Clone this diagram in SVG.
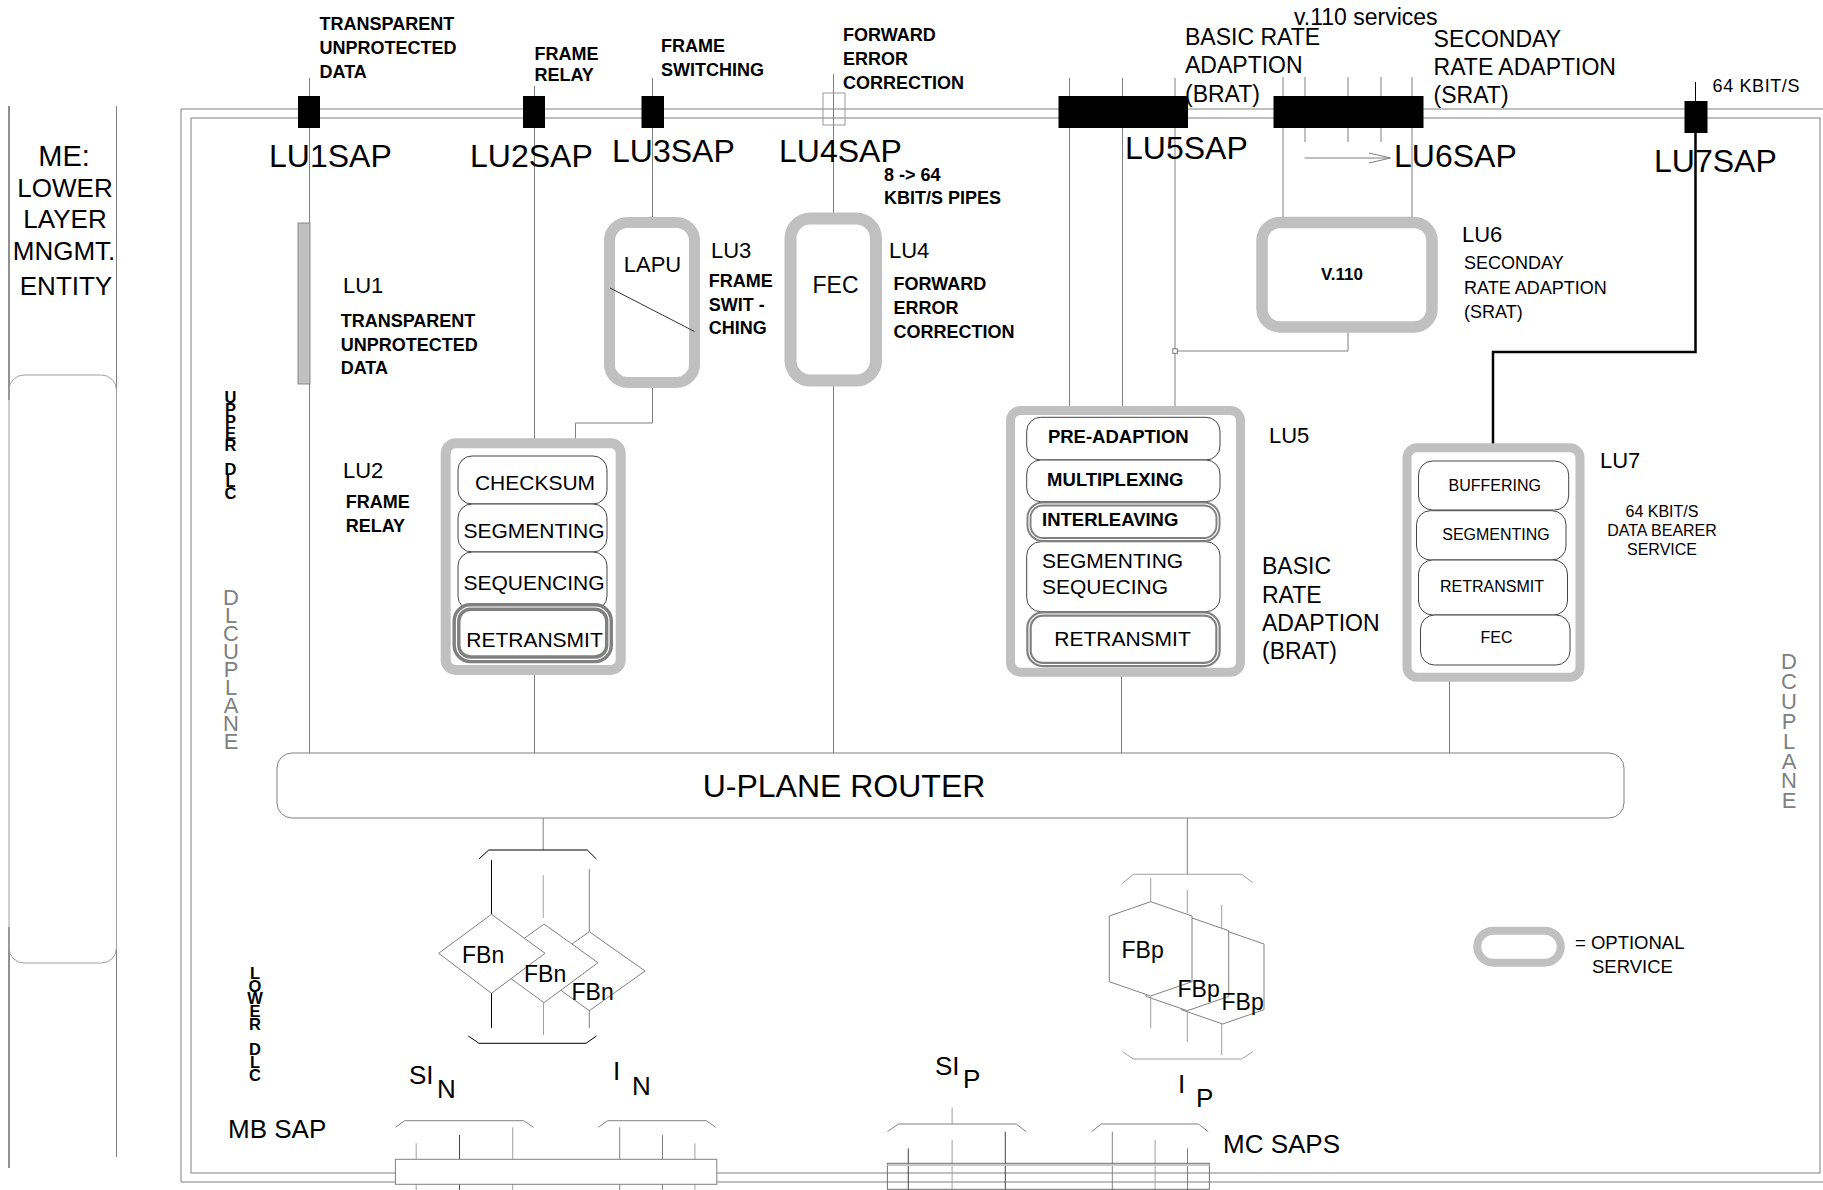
<svg xmlns="http://www.w3.org/2000/svg" width="1823" height="1190" viewBox="0 0 1823 1190">
<defs>
<style>
text{font-family:"Liberation Sans",Arial,Helvetica,sans-serif;fill:#000}
.b{font-weight:bold;font-size:18px}
.r{font-size:22px}
.sap{font-size:32px}
.mid{text-anchor:middle}
.ln{stroke:#808080;stroke-width:1;fill:none}
.lg{stroke:#a0a0a0;stroke-width:1;fill:none}
.lk{stroke:#000;stroke-width:1;fill:none}
.opt{fill:#fff;stroke:#c0c0c0}
.sub{fill:#fff;stroke:#444;stroke-width:1}
.dk{fill:#fff;stroke:#808080}
.wl{fill:none;stroke:#fff;stroke-width:1.2}
.shape{fill:#fff;stroke:#808080;stroke-width:1}
.vt{writing-mode:vertical-rl;text-orientation:upright}
.vg{font-size:22px;fill:#808080}
.vb{font-size:16.5px;font-weight:bold}
</style>
</defs>
<rect width="1823" height="1190" fill="#fff"/>

<!-- ME panel -->
<g id="me-panel">
<line x1="9" y1="106" x2="9" y2="400" stroke="#222" stroke-width="1"/>
<line x1="9" y1="927" x2="9" y2="1168" stroke="#222" stroke-width="1"/>
<line x1="116.5" y1="106" x2="116.5" y2="1157" class="ln"/>
<rect x="9" y="375" width="107.5" height="588" rx="15" class="lg"/>
<text x="64" y="166" class="mid" font-size="29px">ME:</text>
<text x="65" y="197" class="mid" font-size="26px">LOWER</text>
<text x="65" y="228" class="mid" font-size="26px">LAYER</text>
<text x="64" y="260" class="mid" font-size="26px">MNGMT.</text>
<text x="66" y="295" class="mid" font-size="26px">ENTITY</text>
</g>

<!-- frame -->
<g id="frame">
<path d="M1823,109 H181 V1182 H1823" class="ln"/>
<rect x="191" y="118" width="1629" height="1055" class="ln"/>
</g>

<!-- connectors -->
<g id="connectors">
<line x1="309.5" y1="78" x2="309.5" y2="753" class="ln"/>
<line x1="534.5" y1="86" x2="534.5" y2="440" class="ln"/>
<line x1="534.5" y1="675" x2="534.5" y2="753" class="ln"/>
<line x1="652.5" y1="78" x2="652.5" y2="218" class="ln"/>
<polyline points="652.5,386 652.5,423 575.5,423 575.5,440" class="ln"/>
<line x1="833.5" y1="74" x2="833.5" y2="214" class="ln"/>
<line x1="833.5" y1="384" x2="833.5" y2="753" class="ln"/>
<line x1="1069.5" y1="78" x2="1069.5" y2="407" class="ln"/>
<line x1="1122.5" y1="78" x2="1122.5" y2="407" class="ln"/>
<line x1="1175" y1="78" x2="1175" y2="407" class="ln"/>
<line x1="1121.5" y1="676" x2="1121.5" y2="753" class="ln"/>
<line x1="1283" y1="77" x2="1283" y2="218" class="ln"/>
<line x1="1412" y1="77" x2="1412" y2="218" class="ln"/>
<line x1="1305" y1="77" x2="1305" y2="142" class="ln"/>
<line x1="1348" y1="77" x2="1348" y2="142" class="ln"/>
<line x1="1381" y1="77" x2="1381" y2="142" class="ln"/>
<polyline points="1348,331 1348,351 1177,351" class="ln"/>
<rect x="1172.8" y="348.8" width="4.5" height="4.5" fill="#fff" stroke="#555" stroke-width="0.8"/>
<line x1="1304.5" y1="158" x2="1390" y2="158" class="ln"/>
<polyline points="1369,153 1390.5,158 1369,163" class="ln"/>
<line x1="1695.5" y1="82" x2="1695.5" y2="102" class="lk"/>
<polyline points="1695.5,133 1695.5,352 1493,352 1493,444" fill="none" stroke="#000" stroke-width="2.5"/>
<line x1="1449.5" y1="681" x2="1449.5" y2="753" class="ln"/>
<line x1="543.2" y1="818" x2="543.2" y2="850" class="ln"/>
<line x1="1187.3" y1="818" x2="1187.3" y2="874.3" class="ln"/>
</g>

<!-- SAPs -->
<g id="saps">
<rect x="298" y="96" width="22" height="32" fill="#000"/>
<rect x="523" y="96" width="22" height="32" fill="#000"/>
<rect x="641.5" y="96" width="22.5" height="32" fill="#000"/>
<rect x="823" y="93" width="22" height="32" fill="none" stroke="#999" stroke-width="1"/>
<rect x="1058.5" y="96" width="129.5" height="32" fill="#000"/>
<rect x="1273.5" y="96" width="150" height="32" fill="#000"/>
<rect x="1684.5" y="101" width="23" height="32" fill="#000"/>
<text x="269" y="167" class="sap">LU1SAP</text>
<text x="470" y="167" class="sap">LU2SAP</text>
<text x="612" y="162" class="sap">LU3SAP</text>
<text x="779" y="162" class="sap">LU4SAP</text>
<text x="1125" y="158.5" class="sap">LU5SAP</text>
<text x="1394" y="166.7" class="sap">LU6SAP</text>
<text x="1654" y="171.7" class="sap">LU7SAP</text>
</g>

<!-- top labels -->
<g id="top-labels">
<text x="319.5" y="30" class="b">TRANSPARENT</text>
<text x="319.5" y="54" class="b">UNPROTECTED</text>
<text x="319.5" y="77.7" class="b">DATA</text>
<text x="534.5" y="60" class="b">FRAME</text>
<text x="534.5" y="81" class="b">RELAY</text>
<text x="661" y="51.7" class="b">FRAME</text>
<text x="661" y="76" class="b">SWITCHING</text>
<text x="843" y="40.7" class="b">FORWARD</text>
<text x="843" y="65" class="b">ERROR</text>
<text x="843" y="89" class="b">CORRECTION</text>
<text x="884" y="181" class="b" font-size="17px">8 -&gt; 64</text>
<text x="884" y="204" class="b" font-size="17px">KBIT/S PIPES</text>
<text x="1294" y="25" font-size="23px">v.110 services</text>
<text x="1185" y="45" font-size="23px">BASIC RATE</text>
<text x="1185" y="73" font-size="23px">ADAPTION</text>
<text x="1185" y="101.7" font-size="23px">(BRAT)</text>
<text x="1433.6" y="46.7" font-size="23px">SECONDAY</text>
<text x="1433.6" y="75" font-size="23px">RATE ADAPTION</text>
<text x="1433.6" y="103" font-size="23px">(SRAT)</text>
<text x="1712.6" y="91.7" font-size="18px" letter-spacing="0.6">64 KBIT/S</text>
</g>

<!-- vertical side labels -->
<g id="upper-dlc">
<text x="230.5" y="388" class="vt vb" letter-spacing="-6">UPPER DLC</text>
</g>
<g id="lower-dlc">
<text x="255" y="964" class="vt vb" letter-spacing="-5.3">LOWER DLC</text>
</g>
<g id="dlc-uplane-left">
<text x="231" y="585" class="vt vg" letter-spacing="-7">DLCUPLANE</text>
</g>
<g id="dlc-uplane-right">
<text x="1789" y="649" class="vt vg" letter-spacing="-5.1">DCUPLANE</text>
</g>

<!-- LU1 -->
<g id="lu1">
<rect x="298" y="223" width="12" height="161" fill="#c0c0c0" stroke="#888" stroke-width="1"/>
<text x="343" y="293" class="r">LU1</text>
<text x="340.7" y="326.7" class="b">TRANSPARENT</text>
<text x="340.7" y="350.7" class="b">UNPROTECTED</text>
<text x="340.7" y="374" class="b">DATA</text>
</g>

<!-- LU3 -->
<g id="lu3">
<rect x="609.5" y="222.5" width="85" height="160" rx="18" class="opt" stroke-width="11"/>
<line x1="610" y1="288" x2="694.5" y2="331.5" stroke="#333" stroke-width="1"/>
<text x="652.5" y="271.7" class="mid" font-size="22px">LAPU</text>
<text x="711" y="258" class="r">LU3</text>
<text x="708.7" y="286.7" class="b">FRAME</text>
<text x="708.7" y="310.7" class="b">SWIT -</text>
<text x="708.7" y="334.3" class="b">CHING</text>
</g>

<!-- LU4 -->
<g id="lu4">
<rect x="790.5" y="218.5" width="85.5" height="162" rx="20" class="opt" stroke-width="12"/>
<text x="835.5" y="293" class="mid" font-size="23px">FEC</text>
<text x="889" y="258" class="r">LU4</text>
<text x="893.6" y="290" class="b">FORWARD</text>
<text x="893.6" y="314.3" class="b">ERROR</text>
<text x="893.6" y="337.7" class="b">CORRECTION</text>
</g>

<!-- LU6 -->
<g id="lu6">
<rect x="1262" y="222.5" width="170" height="104.5" rx="18" class="opt" stroke-width="11.5"/>
<text x="1342" y="280" class="mid" font-weight="bold" font-size="17px">V.110</text>
<text x="1462" y="241.7" class="r">LU6</text>
<text x="1464" y="269.3" font-size="18px">SECONDAY</text>
<text x="1464" y="294" font-size="18px">RATE ADAPTION</text>
<text x="1464" y="318.3" font-size="18px">(SRAT)</text>
</g>

<!-- LU2 -->
<g id="lu2">
<rect x="445.7" y="443.3" width="175" height="226.7" rx="10" class="opt" stroke-width="10"/>
<rect x="458" y="456" width="149" height="48" rx="14" class="sub"/>
<rect x="458" y="504" width="149" height="48" rx="14" class="sub"/>
<rect x="458" y="552" width="149" height="58" rx="14" class="sub"/>
<rect x="456.5" y="607" width="152.5" height="52.3" rx="14" class="dk" stroke-width="8"/>
<rect x="456.5" y="607" width="152.5" height="52.3" rx="14" class="wl"/>
<text x="535" y="490" class="mid" font-size="21px">CHECKSUM</text>
<text x="534" y="537.7" class="mid" font-size="21px">SEGMENTING</text>
<text x="534" y="590" class="mid" font-size="21px">SEQUENCING</text>
<text x="534.5" y="646.7" class="mid" font-size="21px">RETRANSMIT</text>
<text x="343" y="477.7" class="r">LU2</text>
<text x="345.7" y="507.7" class="b">FRAME</text>
<text x="345.7" y="531.7" class="b">RELAY</text>
</g>

<!-- LU5 -->
<g id="lu5">
<rect x="1010.5" y="410.5" width="230" height="261.7" rx="10" class="opt" stroke-width="9"/>
<rect x="1026.7" y="417.3" width="193.3" height="42.7" rx="14" class="sub"/>
<rect x="1026.7" y="460" width="193.3" height="41.7" rx="14" class="sub"/>
<rect x="1026.7" y="541.7" width="193.3" height="70" rx="14" class="sub"/>
<rect x="1029" y="504" width="189" height="35.5" rx="14" class="dk" stroke-width="5"/>
<rect x="1029" y="504" width="189" height="35.5" rx="14" class="wl"/>
<rect x="1029" y="614" width="189" height="50.5" rx="14" class="dk" stroke-width="5.5"/>
<rect x="1029" y="614" width="189" height="50.5" rx="14" class="wl"/>
<text x="1118.3" y="442.7" class="mid" font-weight="bold" font-size="18.5px">PRE-ADAPTION</text>
<text x="1115.3" y="486" class="mid" font-weight="bold" font-size="18.5px">MULTIPLEXING</text>
<text x="1042" y="526" font-weight="bold" font-size="18.5px">INTERLEAVING</text>
<text x="1042" y="568.3" font-size="21px">SEGMENTING</text>
<text x="1042" y="594.3" font-size="21px">SEQUECING</text>
<text x="1122.5" y="646" class="mid" font-size="21px">RETRANSMIT</text>
<text x="1269" y="443.3" class="r">LU5</text>
<text x="1262" y="574.3" font-size="23px">BASIC</text>
<text x="1262" y="602.7" font-size="23px">RATE</text>
<text x="1262" y="630.7" font-size="23px">ADAPTION</text>
<text x="1262" y="659.3" font-size="23px">(BRAT)</text>
</g>

<!-- LU7 -->
<g id="lu7">
<rect x="1407" y="447.8" width="173" height="229.4" rx="10" class="opt" stroke-width="9"/>
<rect x="1418.5" y="461" width="150.2" height="49" rx="14" class="sub"/>
<rect x="1416.5" y="510.7" width="149.5" height="49.3" rx="14" class="sub"/>
<rect x="1418.5" y="560" width="149" height="55" rx="14" class="sub"/>
<rect x="1420.5" y="615" width="149.5" height="50" rx="14" class="sub"/>
<text x="1494.8" y="491" class="mid" font-size="16px">BUFFERING</text>
<text x="1496" y="540" class="mid" font-size="16px">SEGMENTING</text>
<text x="1492" y="592" class="mid" font-size="16px">RETRANSMIT</text>
<text x="1496.6" y="643.3" class="mid" font-size="16px">FEC</text>
<text x="1600" y="468.3" class="r">LU7</text>
<text x="1662" y="516.7" class="mid" font-size="16px">64 KBIT/S</text>
<text x="1662" y="536" class="mid" font-size="16px">DATA BEARER</text>
<text x="1662" y="555" class="mid" font-size="16px">SERVICE</text>
</g>

<!-- router -->
<g id="router">
<rect x="277" y="753" width="1347" height="65" rx="15" fill="#fff" stroke="#808080" stroke-width="1"/>
<text x="844" y="796.7" class="mid" font-size="32px">U-PLANE ROUTER</text>
</g>

<!-- FBn -->
<g id="fbn">
<polyline points="479,859 488.8,850 587.3,850 596.4,859" class="lk"/>
<line x1="491.5" y1="860" x2="491.5" y2="914.3" class="lk"/>
<line x1="543.2" y1="875" x2="543.2" y2="918" class="lg"/>
<line x1="589.3" y1="869" x2="589.3" y2="931.7" class="ln"/>
<polygon points="589.3,931.7 645,971 589.3,1010.7 534,971" class="shape"/>
<polygon points="544,924 598,962.7 544,1002.7 490,963.3" class="shape"/>
<polygon points="491.5,914.3 545,953.3 491.5,993.3 438.7,953.3" class="shape"/>
<line x1="491.5" y1="993.3" x2="491.5" y2="1028" class="lk"/>
<line x1="543.5" y1="1002.7" x2="543.5" y2="1035" class="lg"/>
<line x1="589.3" y1="1010.7" x2="589.3" y2="1028" class="ln"/>
<polyline points="468.3,1036 479,1043.3 586,1043.3 596.4,1036" class="lk"/>
<text x="462" y="963.3" font-size="23px">FBn</text>
<text x="524" y="981.7" font-size="23px">FBn</text>
<text x="571.5" y="1000" font-size="23px">FBn</text>
</g>

<!-- FBp -->
<g id="fbp">
<polyline points="1121.7,884 1133.3,874.3 1241.7,874.3 1252.7,882.7" class="lg"/>
<line x1="1150.7" y1="878" x2="1150.7" y2="901.7" class="lg"/>
<line x1="1187.3" y1="890" x2="1187.3" y2="913.3" class="lg"/>
<line x1="1221.7" y1="905" x2="1221.7" y2="928.3" class="lg"/>
<polygon points="1222.7,929.7 1264,944 1264,1009.7 1222.7,1024 1181.3,1009.7 1181.3,944" class="shape"/>
<polygon points="1187.4,916.4 1228.7,930.7 1228.7,996.4 1187.4,1010.7 1146,996.4 1146,930.7" class="shape"/>
<polygon points="1150.7,901.7 1192,916 1192,981.7 1150.7,996 1109.3,981.7 1109.3,916" class="shape"/>
<line x1="1150.7" y1="996" x2="1150.7" y2="1028.3" class="lg"/>
<line x1="1187.3" y1="1010.7" x2="1187.3" y2="1041.7" class="lg"/>
<line x1="1221.7" y1="1024" x2="1221.7" y2="1055" class="lg"/>
<polyline points="1122.7,1051.7 1133.3,1059 1241.7,1059 1252.7,1051.7" class="lg"/>
<text x="1121.5" y="958.3" font-size="23px">FBp</text>
<text x="1177.5" y="997.3" font-size="23px">FBp</text>
<text x="1221.5" y="1010" font-size="23px">FBp</text>
</g>

<!-- bottom SAPs -->
<g id="mb-sap">
<polyline points="395.4,1127.3 404.7,1120.7 523.7,1120.7 533.6,1127.3" class="ln"/>
<polyline points="598.3,1127.3 607.6,1120.7 706.4,1120.7 715.7,1127.3" class="ln"/>
<line x1="416.2" y1="1143.3" x2="416.2" y2="1190" class="lg"/>
<line x1="459.5" y1="1135" x2="459.5" y2="1190" stroke="#444" stroke-width="1"/>
<line x1="512.7" y1="1127.3" x2="512.7" y2="1190" class="lg"/>
<line x1="619.7" y1="1127.3" x2="619.7" y2="1190" class="ln"/>
<line x1="662.5" y1="1135" x2="662.5" y2="1190" class="ln"/>
<line x1="694.9" y1="1143.3" x2="694.9" y2="1190" class="lg"/>
<rect x="395.4" y="1159.3" width="321.4" height="25" fill="#fff" stroke="#808080" stroke-width="1"/>
<text x="228" y="1138.3" font-size="26px">MB SAP</text>
<text x="409" y="1084" font-size="26px">SI</text>
<text x="437" y="1098" font-size="26px">N</text>
<text x="613" y="1080" font-size="26px">I</text>
<text x="632" y="1095" font-size="26px">N</text>
</g>
<g id="mc-saps">
<polyline points="887.4,1131.7 898.4,1124 1016.3,1124 1026.2,1131.7" class="ln"/>
<polyline points="1091.5,1131.7 1101.3,1124 1198.4,1124 1208.3,1131.7" class="ln"/>
<line x1="952.1" y1="1107.3" x2="952.1" y2="1124" class="lg"/>
<line x1="908.3" y1="1148.3" x2="908.3" y2="1190" stroke="#444" stroke-width="1"/>
<line x1="952.1" y1="1140" x2="952.1" y2="1190" class="lg"/>
<line x1="1005.3" y1="1131.7" x2="1005.3" y2="1190" stroke="#444" stroke-width="1"/>
<line x1="1112.3" y1="1131.7" x2="1112.3" y2="1190" class="ln"/>
<line x1="1155.1" y1="1140" x2="1155.1" y2="1190" class="lg"/>
<line x1="1187.5" y1="1148.3" x2="1187.5" y2="1190" class="ln"/>
<rect x="887.4" y="1163.3" width="322" height="26" fill="none" stroke="#707070" stroke-width="1"/>
<line x1="887.4" y1="1165" x2="1209.4" y2="1165" stroke="#c8c8c8" stroke-width="2"/>
<text x="935" y="1075" font-size="26px">SI</text>
<text x="963" y="1088.3" font-size="26px">P</text>
<text x="1178" y="1093" font-size="26px">I</text>
<text x="1196" y="1107" font-size="26px">P</text>
<text x="1223" y="1152.7" font-size="26px">MC SAPS</text>
</g>

<!-- legend -->
<g id="legend">
<rect x="1477.3" y="930.7" width="83.4" height="32" rx="16" class="opt" stroke-width="8"/>
<text x="1575" y="949.3" font-size="18.5px">= OPTIONAL</text>
<text x="1592" y="972.7" font-size="18.5px">SERVICE</text>
</g>
</svg>
